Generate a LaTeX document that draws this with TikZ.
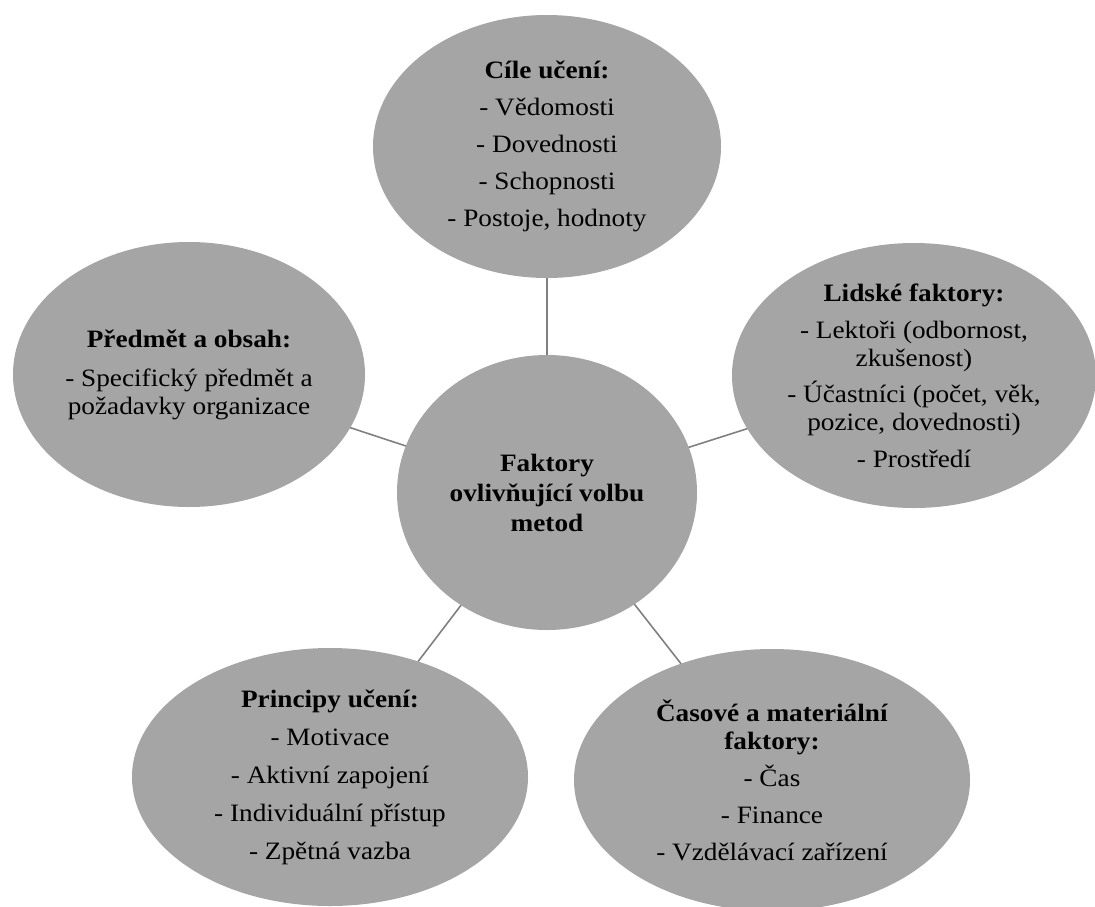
\documentclass[tikz,border=0pt]{standalone}
\usepackage{fontspec}
\setmainfont{Liberation Serif}[FakeStretch=1.09]
\usetikzlibrary{shapes.geometric}
\definecolor{bubblegray}{HTML}{A5A5A5}
\definecolor{linkgray}{HTML}{808080}
\begin{document}
\begin{tikzpicture}[x=1pt,y=-1pt,
  bubble/.style={ellipse, fill=bubblegray, draw=none, inner sep=0pt, outer sep=0pt},
  bubbletext/.style={align=center, inner sep=0pt, text=black,
    font=\fontsize{25}{28}\selectfont},
  link/.style={draw=linkgray, line width=1.6pt}]
\useasboundingbox (0,0) rectangle (1095,906);

% outer bubbles
\node[bubble, minimum width=348pt, minimum height=263pt] (goals)  at (547,146.5) {};
\node[bubble, minimum width=352pt, minimum height=265pt] (subject) at (189,374.5) {};
\node[bubble, minimum width=364pt, minimum height=265pt] (human)  at (914,375.5) {};
\node[bubble, minimum width=396pt, minimum height=258pt] (principles) at (330,777) {};
\node[bubble, minimum width=396pt, minimum height=262pt] (resources)  at (772,780) {};
% central bubble
\node[bubble, minimum width=300pt, minimum height=275pt] (core) at (547,492.5) {};

% connectors from the centre to each bubble
\draw[link] (core) -- (goals);
\draw[link] (core) -- (subject);
\draw[link] (core) -- (human);
\draw[link] (core) -- (principles);
\draw[link] (core) -- (resources);

% texts
\node[bubbletext] (goalsT) at (goals.center)
  {\textbf{Cíle učení:}\\[9pt] - Vědomosti\\[9pt] - Dovednosti\\[9pt] - Schopnosti\\[9pt] - Postoje, hodnoty};
\node[bubbletext] (subjectT) at (subject.center)
  {\textbf{Předmět a obsah:}\\[11pt] - Specifický předmět a\\ požadavky organizace};
\node[bubbletext] (humanT) at (human.center)
  {\textbf{Lidské faktory:}\\[9pt] - Lektoři (odbornost,\\ zkušenost)\\[8pt] - Účastníci (počet, věk,\\ pozice, dovednosti)\\[9pt] - Prostředí};
\node[bubbletext, font=\fontsize{25}{30}\selectfont\bfseries] (coreT) at (core.center)
  {Faktory\\ ovlivňující volbu\\ metod};
\node[bubbletext] (principlesT) at (principles.center)
  {\textbf{Principy učení:}\\[10pt] - Motivace\\[10pt] - Aktivní zapojení\\[10pt] - Individuální přístup\\[10pt] - Zpětná vazba};
\node[bubbletext] (resourcesT) at (resources.center)
  {\textbf{Časové a materiální}\\ \textbf{faktory:}\\[9pt] - Čas\\[9pt] - Finance\\[9pt] - Vzdělávací zařízení};
\end{tikzpicture}
\end{document}
